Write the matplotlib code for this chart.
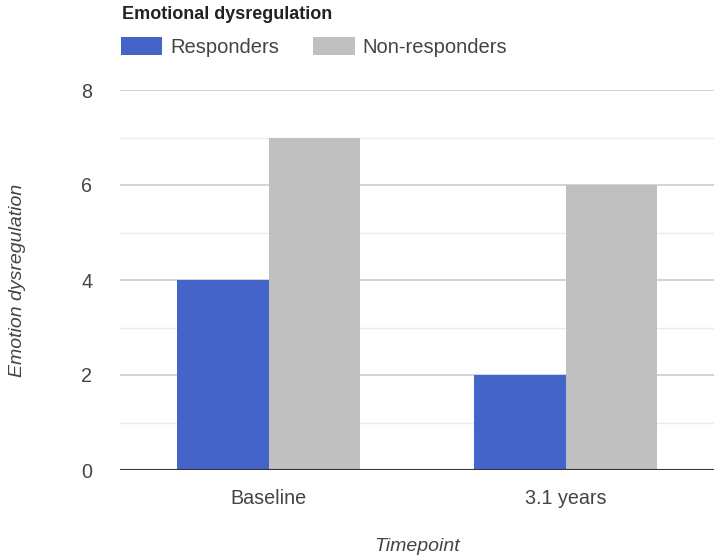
import numpy as np
import matplotlib.pyplot as plt
from matplotlib.patches import Patch
from matplotlib.ticker import MultipleLocator

# datos
timepoints = ['Baseline', '3.1 years']
series_names = ['Responders', 'Non-responders']
responders = [4, 2]
non_responders = [7, 6]
colors = ['#4464C9', '#C0C0C0']

plt.rcParams['font.family'] = ['Liberation Sans', 'DejaVu Sans']
text_col = '#444444'

fig = plt.figure(figsize=(7.14, 5.6), dpi=100)
ax = fig.add_axes([120 / 714, 90 / 560, 594 / 714, 380 / 560])

x = np.arange(len(timepoints))
w = 0.307
ax.bar(x - w / 2, responders, width=w, color=colors[0], zorder=3)
ax.bar(x + w / 2, non_responders, width=w, color=colors[1], zorder=3)

ax.set_xlim(-0.5, 1.5)
ax.set_ylim(0, 8)
ax.yaxis.set_major_locator(MultipleLocator(2))
ax.yaxis.set_minor_locator(MultipleLocator(1))
ax.grid(axis='y', which='major', color='#CCCCCC', linewidth=1.2, zorder=0)
ax.grid(axis='y', which='minor', color='#EBEBEB', linewidth=1.0, zorder=0)
ax.axhline(0, color='#333333', linewidth=1.5, zorder=4)

for s in ax.spines.values():
    s.set_visible(False)
ax.tick_params(axis='both', which='both', length=0, labelsize=14.2, colors=text_col)
ax.tick_params(axis='y', pad=20)
ax.tick_params(axis='x', pad=14)
ax.set_xticks(x)
ax.set_xticklabels(timepoints)

ax.set_xlabel('Timepoint', fontsize=14, style='italic', color=text_col, labelpad=21)
ax.set_ylabel('Emotion dysregulation', fontsize=14, style='italic', color=text_col, labelpad=40)

fig.text(122 / 714, 1 - 19 / 560, 'Emotional dysregulation', fontsize=13,
         fontweight='bold', color='#222222', va='baseline', ha='left')

handles = [Patch(facecolor=c, edgecolor='none') for c in colors]
fig.legend(handles, series_names, loc='center left',
           bbox_to_anchor=(121 / 714, 1 - 47 / 560), ncol=2, frameon=False,
           fontsize=14.5, handlelength=2.05, handleheight=1.0, handletextpad=0.4,
           columnspacing=1.7, borderpad=0, borderaxespad=0, labelcolor=text_col)

fig.savefig('out.png', dpi=100)
